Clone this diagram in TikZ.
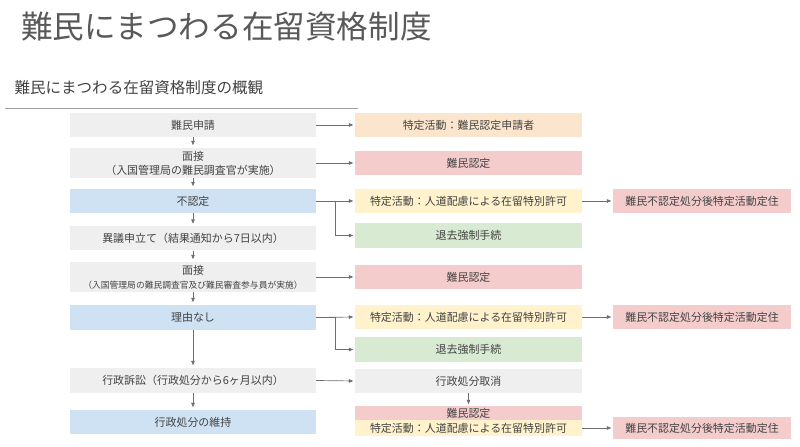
\documentclass[tikz,border=0pt]{standalone}
\usepackage{fontspec}
\setmainfont{Noto Sans CJK JP}
\usetikzlibrary{arrows.meta,positioning}
\definecolor{boxgray}{HTML}{EFEFEF}
\definecolor{boxblue}{HTML}{CFE2F3}
\definecolor{boxpink}{HTML}{F4CCCC}
\definecolor{boxorange}{HTML}{FCE5CD}
\definecolor{boxyellow}{HTML}{FFF2CC}
\definecolor{boxgreen}{HTML}{D9EAD3}
\definecolor{txtgray}{HTML}{434343}
\definecolor{titlegray}{HTML}{595959}
\definecolor{linegray}{HTML}{6E6E6E}

\tikzset{
  box/.style={fill=#1, text=txtgray, inner sep=0pt, align=center,
              font=\fontsize{11}{14}\selectfont},
  lbox/.style={box=#1, minimum width=246bp, minimum height=24bp},
  rbox/.style={box=#1, minimum width=227bp, minimum height=24bp},
  fbox/.style={box=boxpink, minimum width=178bp, minimum height=24bp},
  arr/.style={draw=linegray, line width=0.7bp,
              -{Triangle[length=4.5bp,width=3.5bp]}, shorten >=1.5bp}
}

\begin{document}
\begin{tikzpicture}[x=1bp,y=-1bp]
  \useasboundingbox (0,0) rectangle (800,447);

  % headings
  \node[anchor=west, text=titlegray, font=\fontsize{31.7}{36}\selectfont] (title) at (17.5,27) {難民にまつわる在留資格制度};
  \node[anchor=west, text=txtgray, font=\fontsize{15.6}{18}\selectfont] (subtitle) at (11,88) {難民にまつわる在留資格制度の概観};
  \draw[gray!75, line width=0.8bp] (5,108) -- (358,108);

  % left column
  \node[lbox=boxgray] (shinsei) at (193,125) {難民申請};
  \node[lbox=boxgray, minimum height=30bp] (mensetsu1) at (193,163) {面接\\（入国管理局の難民調査官が実施）};
  \node[lbox=boxblue] (funintei) at (193,201) {不認定};
  \node[lbox=boxgray] (igi) at (193,238.5) {異議申立て（結果通知から7日以内）};
  \node[lbox=boxgray, minimum height=30bp] (mensetsu2) at (193,277) {面接\\{\fontsize{8.8}{14}\selectfont（入国管理局の難民調査官及び難民審査参与員が実施）}};
  \node[lbox=boxblue, minimum height=25bp] (riyunashi) at (193,317.5) {理由なし};
  \node[lbox=boxgray, minimum height=25bp] (sosho) at (193,380.5) {行政訴訟（行政処分から6ヶ月以内）};
  \node[lbox=boxblue] (iji) at (193,422) {行政処分の維持};

  % right column
  \node[rbox=boxorange] (tokutei1) at (468.5,125) {特定活動：難民認定申請者};
  \node[rbox=boxpink] (nintei1) at (468.5,163) {難民認定};
  \node[rbox=boxyellow] (jindo1) at (468.5,201) {特定活動：人道配慮による在留特別許可};
  \node[rbox=boxgreen, minimum height=25bp] (taikyo1) at (468.5,235.5) {退去強制手続};
  \node[rbox=boxpink] (nintei2) at (468.5,277) {難民認定};
  \node[rbox=boxyellow] (jindo2) at (468.5,317) {特定活動：人道配慮による在留特別許可};
  \node[rbox=boxgreen, minimum height=25bp] (taikyo2) at (468.5,349.5) {退去強制手続};
  \node[rbox=boxgray] (torikeshi) at (468.5,381) {行政処分取消};
  \node[rbox=boxpink, minimum height=14bp] (nintei3) at (468.5,413) {難民認定};
  \node[rbox=boxyellow, minimum height=16bp] (jindo3) at (468.5,428) {特定活動：人道配慮による在留特別許可};

  % far right
  \node[fbox] (teiju1) at (702,201) {難民不認定処分後特定活動定住};
  \node[fbox] (teiju2) at (702,317) {難民不認定処分後特定活動定住};
  \node[fbox, minimum height=22bp] (teiju3) at (702,428) {難民不認定処分後特定活動定住};

  % flow down the left column
  \foreach \a/\b in {shinsei/mensetsu1,mensetsu1/funintei,funintei/igi,igi/mensetsu2,
                     mensetsu2/riyunashi,riyunashi/sosho,sosho/iji}
    \draw[arr, shorten >=2.5bp] (\a) -- (\b);

  % to the right
  \foreach \a/\b in {shinsei/tokutei1,mensetsu1/nintei1,funintei/jindo1,mensetsu2/nintei2,
                     riyunashi/jindo2,sosho/torikeshi,jindo1/teiju1,jindo2/teiju2,jindo3/teiju3}
    \draw[arr] (\a.east) -- (\b.west);
  \draw[arr] (funintei.east) -- ++(19,0) |- (taikyo1.west);
  \draw[arr] (riyunashi.east) -- ++(19,0) |- (taikyo2.west);
  \draw[arr] (torikeshi) -- (nintei3);
\end{tikzpicture}
\end{document}
